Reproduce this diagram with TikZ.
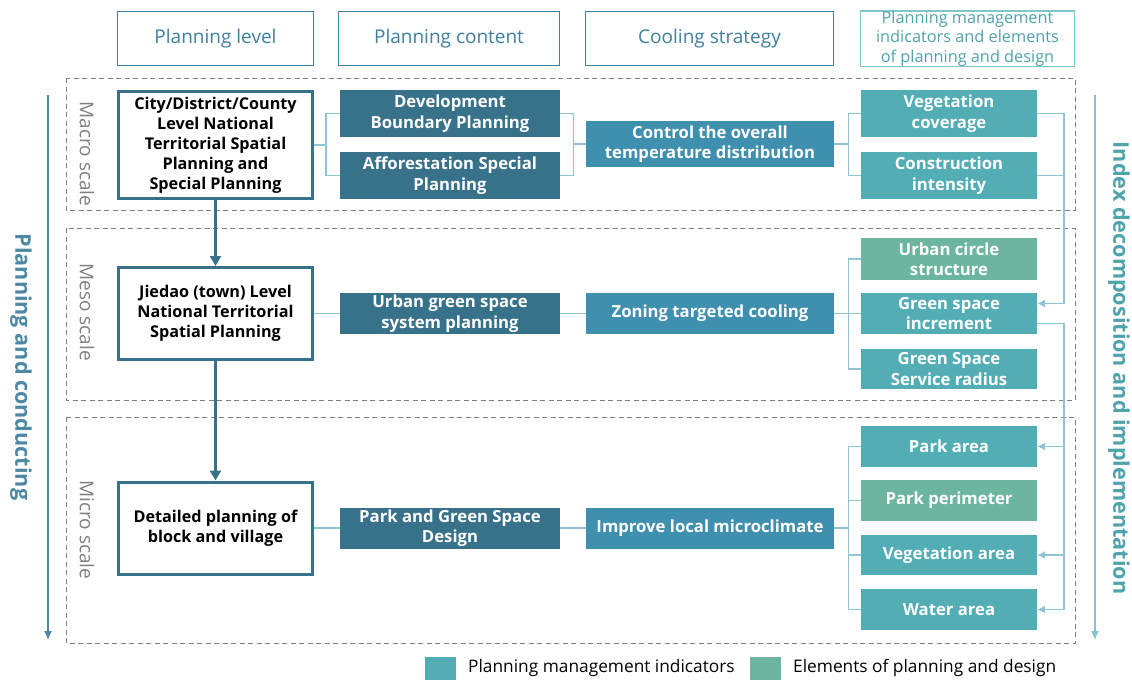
\documentclass[tikz,border=0pt]{standalone}
\usepackage{fontspec}
\setmainfont{Open Sans}
\usetikzlibrary{arrows.meta,calc}

\definecolor{cdark}{HTML}{38718A}
\definecolor{ccool}{HTML}{3F8FAE}
\definecolor{cind}{HTML}{53ADB5}
\definecolor{celem}{HTML}{6CB59F}
\definecolor{cconn}{HTML}{8DC5D5}
\definecolor{cdash}{HTML}{808080}
\definecolor{chead}{HTML}{3D80A0}
\definecolor{cheadl}{HTML}{80C8CC}
\definecolor{cheadt}{HTML}{4FA3AB}
\definecolor{cleft}{HTML}{4F88A2}
\definecolor{cright}{HTML}{80C4C8}

\tikzset{
  head/.style={draw=chead, line width=1.3pt, fill=white, text=chead, inner sep=0pt,
    align=center, font=\fontsize{19}{22}\selectfont, minimum height=53.7pt},
  headl/.style={head, draw=cheadl, text=cheadt, font=\fontsize{16.3}{19.5}\selectfont},
  levelbox/.style={draw=cdark, line width=3pt, fill=white, text=black, inner sep=0pt,
    align=center, font=\bfseries\fontsize{16.2}{20}\selectfont, minimum width=194pt},
  fbox/.style={text=white, inner sep=0pt, align=center,
    font=\bfseries\fontsize{16.7}{20.5}\selectfont},
  contentbox/.style={fbox, fill=cdark, minimum width=220pt},
  coolbox/.style={fbox, fill=ccool, minimum width=248pt},
  indbox/.style={fbox, fill=cind, minimum width=176pt},
  elembox/.style={fbox, fill=celem, minimum width=176pt},
  conn/.style={draw=cconn, line width=1.1pt},
  connarr/.style={conn, -{Latex[length=8pt,width=8pt]}},
  mainarr/.style={draw=cdark, line width=3pt, -{Triangle[length=10pt,width=11pt]}},
  dashbox/.style={draw=cdash, line width=1pt, dash pattern=on 5pt off 3.5pt},
  scalelbl/.style={rotate=-90, text=cdash, font=\fontsize{19}{22}\selectfont, inner sep=0pt},
  sidetitle/.style={rotate=-90, font=\bfseries\fontsize{21.6}{25}\selectfont, inner sep=0pt},
  legsq/.style={minimum width=31pt, minimum height=23pt, inner sep=0pt},
  legtxt/.style={anchor=west, inner sep=0pt, font=\fontsize{17.3}{20}\selectfont}
}

\begin{document}
\begin{tikzpicture}[x=1pt,y=-1pt]
\useasboundingbox (0,0) rectangle (1132,680);

% column headers
\node[head, minimum width=195.7pt] (hlev)  at (215.5,38.5) {Planning level};
\node[head, minimum width=220.7pt] (hcon)  at (449,38.5)   {Planning content};
\node[head, minimum width=247.7pt] (hcool) at (709.5,38.5) {Cooling strategy};
\node[headl, minimum width=213.7pt] (hind) at (967.5,38.5)
  {Planning management\\indicators and elements\\of planning and design};

% scale bands
\draw[dashbox] (66,78) rectangle (1075,210);
\draw[dashbox] (66,228) rectangle (1075,400);
\draw[dashbox] (66,417) rectangle (1075,643);
\node[scalelbl] (lmacro) at (87,154) {Macro scale};
\node[scalelbl] (lmeso)  at (87,312) {Meso scale};
\node[scalelbl] (lmicro) at (87,530) {Micro scale};

% side flows
\coordinate (ltop) at (48,95);
\coordinate (lbot) at (48,640);
\coordinate (rtop) at (1095,95);
\coordinate (rbot) at (1095,640);
\draw[draw=cleft, line width=1.2pt, -{Latex[length=9pt,width=8pt]}] (ltop) -- (lbot);
\draw[draw=cright, line width=1.2pt, -{Latex[length=9pt,width=8pt]}] (rtop) -- (rbot);
\node[sidetitle, text=cleft] (tleft) at (21,367) {Planning and conducting};
\node[sidetitle, text=cheadt] (tright) at (1119,368) {Index decomposition and implementation};

% planning levels
\node[levelbox, minimum height=107pt] (city) at (215.5,145)
  {City/District/County\\Level National\\Territorial Spatial\\Planning and\\Special Planning};
\node[levelbox, minimum height=92pt] (jiedao) at (215.5,313.5)
  {Jiedao (town) Level\\National Territorial\\Spatial Planning};
\node[levelbox, minimum height=92pt] (detail) at (215.5,528)
  {Detailed planning of\\block and village};

% planning content
\node[contentbox, minimum height=47pt] (dev) at (450,113.5) {Development\\Boundary Planning};
\node[contentbox, minimum height=47pt] (aff) at (450,175.5) {Afforestation Special\\Planning};
\node[contentbox, minimum height=41pt] (ugs) at (450,313.5) {Urban green space\\system planning};
\node[contentbox, minimum height=41pt] (pgs) at (450,528) {Park and Green Space\\Design};

% cooling strategies
\node[coolbox, minimum height=46pt] (ctrl) at (710,144) {Control the overall\\temperature distribution};
\node[coolbox, minimum height=41pt] (zone) at (710,313.5) {Zoning targeted cooling};
\node[coolbox, minimum height=41pt] (impr) at (710,528) {Improve local microclimate};

% indicators and elements
\node[indbox,  minimum height=47pt] (vegc)  at (949,113.5) {Vegetation\\coverage};
\node[indbox,  minimum height=47pt] (coni)  at (949,175.5) {Construction\\intensity};
\node[elembox, minimum height=42pt] (ucs)   at (949,259)   {Urban circle\\structure};
\node[indbox,  minimum height=41pt] (gsi)   at (949,313.5) {Green space\\increment};
\node[indbox,  minimum height=40pt] (gssr)  at (949,369)   {Green Space\\Service radius};
\node[indbox,  minimum height=41pt] (park)  at (949,446.5) {Park area};
\node[elembox, minimum height=41pt] (perim) at (949,500.5) {Park perimeter};
\node[indbox,  minimum height=40pt] (vega)  at (949,555)   {Vegetation area};
\node[indbox,  minimum height=41pt] (water) at (949,609.5) {Water area};

% level to level
\draw[mainarr] (city.south) -- (jiedao.north);
\draw[mainarr] (jiedao.south) -- (detail.north);

% macro row connectors
\draw[conn] (city.east) -- ++(12,0) |- (dev.west);
\draw[conn] (city.east) -- ++(12,0) |- (aff.west);
\draw[conn] (dev.east) -- ++(13,0) |- (ctrl.west);
\draw[conn] (aff.east) -- ++(13,0) |- (ctrl.west);
\draw[conn] (ctrl.east) -- ++(14,0) |- (vegc.west);
\draw[conn] (ctrl.east) -- ++(14,0) |- (coni.west);

% meso row connectors
\draw[conn] (jiedao.east) -- (ugs.west);
\draw[conn] (ugs.east) -- (zone.west);
\draw[conn] (zone.east) -- ++(14,0) |- (ucs.west);
\draw[conn] (zone.east) -- (gsi.west);
\draw[conn] (zone.east) -- ++(14,0) |- (gssr.west);

% micro row connectors
\draw[conn] (detail.east) -- (pgs.west);
\draw[conn] (pgs.east) -- (impr.west);
\draw[conn] (impr.east) -- ++(14,0) |- (park.west);
\draw[conn] (impr.east) -- ++(14,0) |- (perim.west);
\draw[conn] (impr.east) -- ++(14,0) |- (vega.west);
\draw[conn] (impr.east) -- ++(14,0) |- (water.west);

% index decomposition on the right
\coordinate (rx) at (1064,0);
\coordinate (gsiin)  at ($(gsi.east)+(0,-10)$);
\coordinate (gsiout) at ($(gsi.east)+(0,10)$);
\draw[connarr] (vegc.east) -| (rx |- gsiin) -- (gsiin);
\draw[conn] (coni.east) -- (coni.east -| rx);
\draw[connarr] (gsiout) -| (rx |- water.east) -- (water.east);
\draw[connarr] (rx |- park.east) -- (park.east);
\draw[connarr] (rx |- vega.east) -- (vega.east);

% legend
\node[legsq, fill=cind]  (lg1) at (440.5,668.5) {};
\node[legtxt] (lg1t) at (468,668) {Planning management indicators};
\node[legsq, fill=celem] (lg2) at (765.5,668.5) {};
\node[legtxt] (lg2t) at (793,668) {Elements of planning and design};
\end{tikzpicture}
\end{document}
